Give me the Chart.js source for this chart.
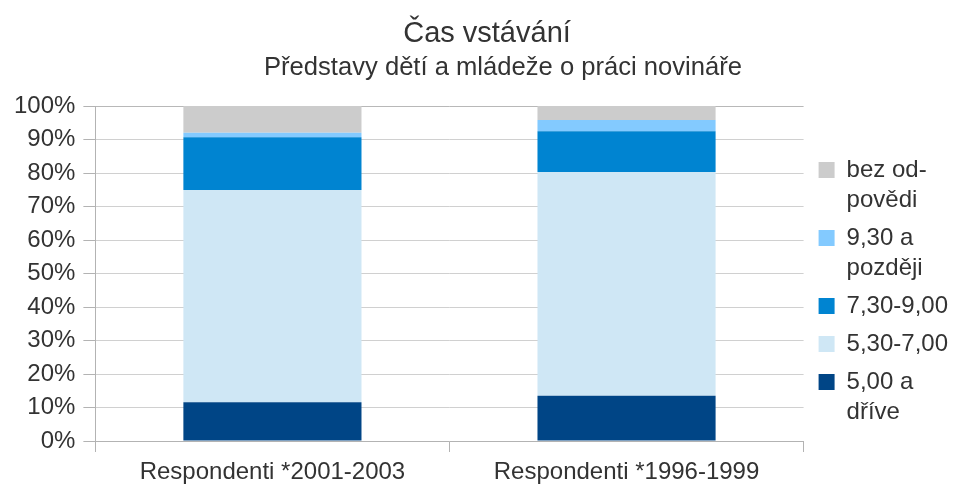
<!DOCTYPE html>
<html><head><meta charset="utf-8">
<script src="https://cdn.jsdelivr.net/npm/chart.js@4/dist/chart.umd.min.js"></script>
<style>html,body{margin:0;padding:0;background:#fff;}</style>
</head><body>
<canvas id="c" width="955" height="488" style="width:955px;height:488px;display:block"></canvas>
<script>
const titleText = 'Čas vstávání';
const subtitleText = 'Představy dětí a mládeže o práci novináře';
const categories = ['Respondenti *2001-2003', 'Respondenti *1996-1999'];
const seriesNames = ['5,00 a dříve', '5,30-7,00', '7,30-9,00', '9,30 a později', 'bez odpovědi'];
const legendLines = [['5,00 a', 'dříve'], ['5,30-7,00'], ['7,30-9,00'], ['9,30 a', 'později'], ['bez od-', 'povědi']];
const early = [11.6, 13.5];
const morning = [63.3, 66.8];
const midMorning = [15.8, 12.2];
const late = [1.3, 3.3];
const noAnswer = [8.0, 4.2];
const seriesValues = [early, morning, midMorning, late, noAnswer];
const seriesColors = ['#004586', '#cfe7f5', '#0084d1', '#83caff', '#cccccc'];
const yTickValues = [0, 10, 20, 30, 40, 50, 60, 70, 80, 90, 100];

const FONT = '"Liberation Sans", Arial, sans-serif';
const TEXT = '#333333';

const titlePlugin = {
  id: 'titles',
  afterLayout(chart) {
    const lg = chart.legend;
    if (lg) { lg.left += 7; lg.right += 7; lg.top -= 3; lg.bottom -= 3; }
  },
  afterDraw(chart) {
    const ctx = chart.ctx;
    ctx.save();
    ctx.fillStyle = TEXT;
    ctx.textAlign = 'center';
    ctx.textBaseline = 'alphabetic';
    ctx.font = '29px ' + FONT;
    ctx.fillText(titleText, 487, 42);
    ctx.font = '25.6px ' + FONT;
    ctx.fillText(subtitleText, 503, 75);
    ctx.restore();
  }
};

const datasets = seriesNames.map((name, i) => ({
  label: name,
  data: seriesValues[i],
  backgroundColor: seriesColors[i],
  borderWidth: 0,
  categoryPercentage: 1.0,
  barPercentage: 0.503
}));

new Chart(document.getElementById('c'), {
  type: 'bar',
  data: { labels: categories, datasets },
  plugins: [titlePlugin],
  options: {
    responsive: false,
    animation: false,
    devicePixelRatio: 1,
    layout: { padding: { top: 106, left: 6, right: 4, bottom: 0 } },
    plugins: {
      title: { display: false },
      tooltip: { enabled: false },
      legend: {
        position: 'right',
        align: 'center',
        reverse: true,
        labels: {
          color: TEXT,
          font: { family: FONT, size: 24, lineHeight: 1.25 },
          boxWidth: 16,
          boxHeight: 16,
          padding: 8,
          generateLabels(chart) {
            const items = Chart.defaults.plugins.legend.labels.generateLabels(chart);
            items.forEach(it => { it.text = legendLines[it.datasetIndex]; it.lineWidth = 0; it.strokeStyle = 'rgba(0,0,0,0)'; });
            return items;
          }
        }
      }
    },
    scales: {
      x: {
        stacked: true,
        offset: true,
        afterFit(scale) { scale.height = 47; },
        grid: {
          offset: true,
          drawOnChartArea: true,
          color: c => (c.index === 2 ? '#d0d0d0' : 'rgba(0,0,0,0)'),
          tickColor: '#b3b3b3',
          tickLength: 11,
          lineWidth: 1
        },
        border: { display: true, color: '#b3b3b3', width: 1 },
        ticks: { color: TEXT, font: { family: FONT, size: 24 }, padding: 6, maxRotation: 0 }
      },
      y: {
        stacked: true,
        min: 0,
        max: 100,
        afterBuildTicks(scale) { scale.ticks = yTickValues.map(v => ({ value: v })); },
        grid: { color: c => (c.index === 10 ? '#b8b8b8' : '#d0d0d0'), tickColor: '#b3b3b3', tickLength: 12, lineWidth: 1 },
        border: { display: true, color: '#b3b3b3', width: 1 },
        ticks: { color: TEXT, font: { family: FONT, size: 24 }, padding: 8, callback: v => v + '%' }
      }
    }
  }
});
</script>
</body></html>
